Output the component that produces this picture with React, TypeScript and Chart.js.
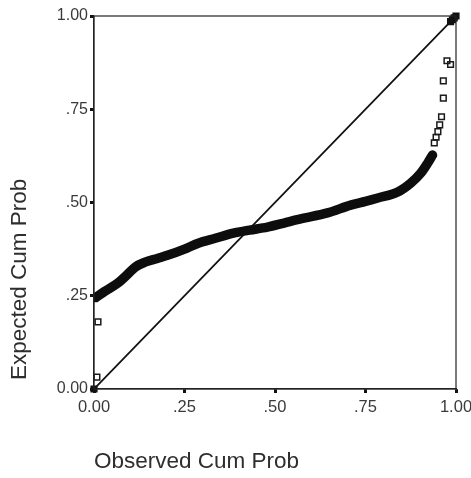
import React, { useEffect, useRef } from 'react';
import { Chart, registerables } from 'chart.js';

Chart.register(...registerables);

const xTickLabels = ['0.00', '.25', '.50', '.75', '1.00'];
const yTickLabels = ['0.00', '.25', '.50', '.75', '1.00'];
const xTitle = 'Observed Cum Prob';
const yTitle = 'Expected Cum Prob';

// dense band of observations (read along its centre)
const bandObserved = [0.005, 0.03, 0.066, 0.09, 0.114, 0.141, 0.175, 0.205, 0.25, 0.288, 0.335, 0.385, 0.43, 0.479, 0.525, 0.571, 0.645, 0.709, 0.75, 0.784, 0.839, 0.875, 0.903, 0.922, 0.935];
const bandExpected = [0.245, 0.262, 0.284, 0.305, 0.327, 0.34, 0.35, 0.359, 0.375, 0.391, 0.404, 0.418, 0.426, 0.434, 0.445, 0.456, 0.472, 0.493, 0.503, 0.512, 0.528, 0.552, 0.579, 0.606, 0.627];

// separate hollow squares
const pointObserved = [0.008, 0.011, 0.94, 0.945, 0.95, 0.955, 0.96, 0.965, 0.965, 0.975, 0.985];
const pointExpected = [0.032, 0.18, 0.66, 0.675, 0.69, 0.708, 0.73, 0.78, 0.826, 0.88, 0.87];

// filled corner clusters
const cornerObserved = [0, 0.985, 0.99, 0.995, 1.0];
const cornerExpected = [0, 0.985, 0.99, 0.995, 1.0];

const diagonalObserved = [0, 1];
const diagonalExpected = [0, 1];

const FONT = "'Liberation Sans', Arial, sans-serif";

const framePlugin = {
  id: 'frame',
  afterDatasetsDraw(chart: any) {
    const { ctx, chartArea } = chart;
    ctx.save();
    ctx.strokeStyle = '#222';
    ctx.lineWidth = 1.2;
    ctx.strokeRect(chartArea.left, chartArea.top, chartArea.right - chartArea.left, chartArea.bottom - chartArea.top);
    ctx.restore();
  },
  afterDraw(chart: any) {
    const { ctx, chartArea } = chart;
    ctx.save();
    ctx.translate(20, chartArea.bottom - 9);
    ctx.rotate(-Math.PI / 2);
    ctx.font = `22.5px ${FONT}`;
    ctx.fillStyle = '#2e2e2e';
    ctx.textAlign = 'left';
    ctx.textBaseline = 'middle';
    ctx.fillText(yTitle, 0, 0);
    ctx.restore();
  },
};

export default function App() {
  const ref = useRef<HTMLCanvasElement | null>(null);

  useEffect(() => {
    if (!ref.current) return;
    const zip = (xs: number[], ys: number[]) => xs.map((x, i) => ({ x, y: ys[i] }));
    const chart = new Chart(ref.current, {
      type: 'scatter',
      data: {
        datasets: [
          {
            type: 'line',
            data: zip(diagonalObserved, diagonalExpected),
            borderColor: '#111',
            borderWidth: 1.8,
            pointRadius: 0,
            fill: false,
          } as any,
          {
            type: 'line',
            data: zip(bandObserved, bandExpected),
            borderColor: '#0d0d0d',
            borderWidth: 9.5,
            cubicInterpolationMode: 'monotone',
            pointRadius: 0,
            fill: false,
            borderCapStyle: 'round',
          } as any,
          {
            data: zip(pointObserved, pointExpected),
            pointStyle: 'rect',
            pointRadius: 4,
            borderColor: '#1a1a1a',
            borderWidth: 1.5,
            backgroundColor: 'rgba(0,0,0,0)',
            clip: false,
          } as any,
          {
            data: zip(cornerObserved, cornerExpected),
            pointStyle: 'rect',
            pointRadius: 4,
            borderColor: '#111',
            borderWidth: 1.5,
            backgroundColor: '#111',
            clip: false,
          } as any,
        ],
      },
      options: {
        animation: false,
        responsive: false,
        devicePixelRatio: 1,
        layout: { padding: { left: 0, top: 16, right: 15, bottom: 0 } },
        plugins: { legend: { display: false }, tooltip: { enabled: false } },
        scales: {
          x: {
            type: 'linear',
            min: 0,
            max: 1,
            afterFit: (s: any) => {
              s.height = 89;
              s.paddingLeft = 0;
              s.paddingRight = 0;
            },
            afterBuildTicks: (s: any) => {
              s.ticks = xTickLabels.map((_, i) => ({ value: i / (xTickLabels.length - 1) }));
            },
            ticks: {
              callback: (_v: any, i: number) => xTickLabels[i],
              color: '#3a3a3a',
              font: { family: FONT, size: 16.5 },
              padding: 5,
              maxRotation: 0,
            },
            grid: { drawOnChartArea: false, tickLength: 4, tickWidth: 3, tickColor: '#111' },
            border: { display: true, color: '#222', width: 1.2 },
            title: {
              display: true,
              text: xTitle,
              align: 'start',
              color: '#2e2e2e',
              font: { family: FONT, size: 22.5 },
              padding: { top: 0, bottom: 3 },
            },
          },
          y: {
            type: 'linear',
            min: 0,
            max: 1,
            afterFit: (s: any) => {
              s.width = 94;
              s.paddingTop = 0;
              s.paddingBottom = 0;
            },
            afterBuildTicks: (s: any) => {
              s.ticks = yTickLabels.map((_, i) => ({ value: i / (yTickLabels.length - 1) }));
            },
            ticks: {
              callback: (_v: any, i: number) => yTickLabels[i],
              color: '#3a3a3a',
              font: { family: FONT, size: 16 },
              padding: 2,
            },
            grid: { drawOnChartArea: false, tickLength: 4, tickWidth: 3, tickColor: '#111' },
            border: { display: true, color: '#222', width: 1.2 },
            title: { display: false },
          },
        },
      },
      plugins: [framePlugin],
    } as any);
    return () => chart.destroy();
  }, []);

  return (
    <div style={{ position: 'absolute', left: 0, top: 0, width: 471, height: 478, background: '#fff' }}>
      <canvas ref={ref} width={471} height={478} style={{ display: 'block' }} />
    </div>
  );
}
